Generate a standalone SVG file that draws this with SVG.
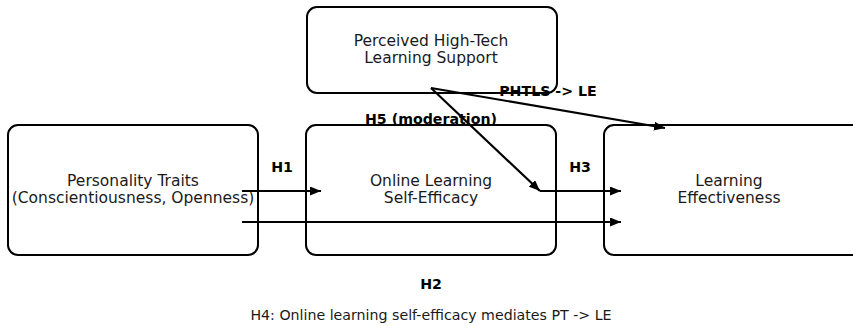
<svg xmlns="http://www.w3.org/2000/svg" width="853" height="326" viewBox="0 0 853 326">
  <style>
    .box { fill: #ffffff; stroke: #000000; stroke-width: 2; }
    .lbl { font-family: "DejaVu Sans", sans-serif; font-size: 15.5px; fill: #1a1a1a; text-anchor: middle; }
    .note { font-family: "DejaVu Sans", sans-serif; font-size: 14.2px; fill: #1a1a1a; text-anchor: middle; }
    .hyp { font-family: "DejaVu Sans", sans-serif; font-size: 14.2px; font-weight: bold; fill: #000000; text-anchor: middle; }
    .edge { stroke: #000000; stroke-width: 2.2; fill: none; marker-end: url(#head); }
  </style>
  <defs>
    <marker id="head" viewBox="0 0 11 9" refX="11" refY="4.5" markerWidth="11" markerHeight="9" markerUnits="userSpaceOnUse" orient="auto">
      <path d="M0,0 L11,4.5 L0,9 Z" fill="#000000"/>
    </marker>
  </defs>

  <rect width="853" height="326" fill="#ffffff"/>

  <g id="node-phtls">
    <rect class="box" x="307" y="7" width="250" height="86" rx="10"/>
    <text class="lbl" x="431" y="46">Perceived High-Tech</text>
    <text class="lbl" x="431" y="63">Learning Support</text>
  </g>

  <g id="node-pt">
    <rect class="box" x="8" y="125" width="250" height="130" rx="10"/>
    <text class="lbl" x="133" y="186">Personality Traits</text>
    <text class="lbl" x="133" y="203">(Conscientiousness, Openness)</text>
  </g>

  <g id="node-olse">
    <rect class="box" x="306" y="125" width="250" height="130" rx="10"/>
    <text class="lbl" x="431" y="186">Online Learning</text>
    <text class="lbl" x="431" y="203">Self-Efficacy</text>
  </g>

  <g id="node-le">
    <rect class="box" x="604" y="125" width="260" height="130" rx="10"/>
    <text class="lbl" x="729" y="186">Learning</text>
    <text class="lbl" x="729" y="203">Effectiveness</text>
  </g>

  <g id="connectors">
    <line class="edge" x1="242" y1="191" x2="321" y2="191"/>
    <line class="edge" x1="242" y1="222" x2="621" y2="222"/>
    <line class="edge" x1="540" y1="191" x2="621" y2="191"/>
    <line class="edge" x1="431" y1="88" x2="540" y2="191"/>
    <line class="edge" x1="431" y1="88" x2="665" y2="128"/>
  </g>

  <g id="labels">
    <text class="hyp" x="282" y="172">H1</text>
    <text class="hyp" x="580" y="172">H3</text>
    <text class="hyp" x="431" y="289">H2</text>
    <text class="hyp" x="431" y="124">H5 (moderation)</text>
    <text class="hyp" x="548" y="96">PHTLS -&gt; LE</text>
    <text class="note" x="431" y="320">H4: Online learning self-efficacy mediates PT -&gt; LE</text>
  </g>
</svg>
